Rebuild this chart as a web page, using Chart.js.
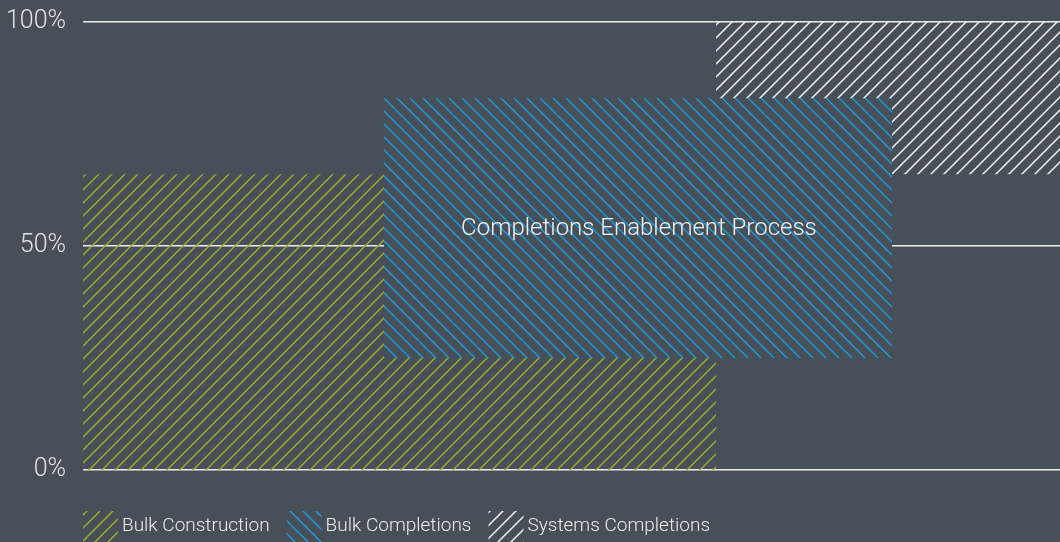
<!DOCTYPE html>
<html>
<head>
<meta charset="utf-8">
<script src="https://cdn.jsdelivr.net/npm/chart.js@4.4.1/dist/chart.umd.min.js"></script>
<style>
  html, body { margin: 0; padding: 0; background: #474f58; }
  #wrap { width: 1060px; height: 542px; position: relative; }
</style>
</head>
<body>
<div id="wrap"><canvas id="c" width="1060" height="542"></canvas></div>
<script>
// ---- data ----
const phases = ['Bulk Construction', 'Bulk Completions', 'Systems Completions'];
const phaseStart = [0, 30.8, 64.8];     // x (timeline %) start
const phaseEnd   = [64.8, 82.8, 100];   // x end
const phaseLow   = [0, 25, 66];         // y low (%)
const phaseHigh  = [66, 83, 100];       // y high (%)
const yTicks = [0, 50, 100];
const annotationText = 'Completions Enablement Process';
const annotationPhase = 1;

// ---- styles ----
const BG = '#474f58';
const phaseColors = ['#9aae2c', '#1c9ad6', '#f2f2f2'];
const phaseDir = ['/', '\\', '/'];
const phaseOpaque = [false, true, false];
const FONT = 'Roboto, "Open Sans", sans-serif';

function makePattern(color, dir, opaque) {
  const s = 13;
  const c = document.createElement('canvas');
  c.width = s; c.height = s;
  const g = c.getContext('2d');
  if (opaque) { g.fillStyle = BG; g.fillRect(0, 0, s, s); }
  g.strokeStyle = color;
  g.lineWidth = 1.5;
  g.beginPath();
  if (dir === '/') {
    g.moveTo(-2, s + 2); g.lineTo(s + 2, -2);
    g.moveTo(-2, 2); g.lineTo(2, -2);
    g.moveTo(s - 2, s + 2); g.lineTo(s + 2, s - 2);
  } else {
    g.moveTo(-2, -2); g.lineTo(s + 2, s + 2);
    g.moveTo(s - 2, -2); g.lineTo(s + 2, 2);
    g.moveTo(-2, s - 2); g.lineTo(2, s + 2);
  }
  g.stroke();
  const ctx = document.getElementById('c').getContext('2d');
  return ctx.createPattern(c, 'repeat');
}

const patterns = phases.map((p, i) => makePattern(phaseColors[i], phaseDir[i], phaseOpaque[i]));

// Draw order: blue (index 1) on top -> put it first in dataset list.
const drawOrder = [1, 0, 2];
const datasets = [];
drawOrder.forEach(pi => {
  const topIdx = datasets.length;
  datasets.push({
    label: phases[pi],
    data: [{x: phaseStart[pi], y: phaseHigh[pi]}, {x: phaseEnd[pi], y: phaseHigh[pi]}],
    borderWidth: 0,
    borderColor: 'rgba(0,0,0,0)',
    backgroundColor: patterns[pi],
    pointRadius: 0,
    fill: {target: topIdx + 1}
  });
  datasets.push({
    label: '_' + phases[pi],
    data: [{x: phaseStart[pi], y: phaseLow[pi]}, {x: phaseEnd[pi], y: phaseLow[pi]}],
    borderWidth: 0,
    borderColor: 'rgba(0,0,0,0)',
    pointRadius: 0,
    fill: false
  });
});

const annotationPlugin = {
  id: 'annot',
  afterDatasetsDraw(chart) {
    const {ctx, scales} = chart;
    const i = annotationPhase;
    const cx = scales.x.getPixelForValue((phaseStart[i] + phaseEnd[i]) / 2);
    const cy = scales.y.getPixelForValue((phaseLow[i] + phaseHigh[i]) / 2);
    ctx.save();
    ctx.fillStyle = '#f0f0f0';
    ctx.font = '300 24px ' + FONT;
    ctx.textAlign = 'center';
    ctx.textBaseline = 'middle';
    ctx.fillText(annotationText, cx + 1, cy + 1);
    ctx.restore();
  }
};

const legendPlugin = {
  id: 'customLegend',
  afterDraw(chart) {
    const {ctx, chartArea} = chart;
    let x = chartArea.left;
    const top = 511, h = 31, w = 35, cy = 526;
    ctx.save();
    ctx.font = '300 19px ' + FONT;
    ctx.textBaseline = 'middle';
    ctx.textAlign = 'left';
    phases.forEach((p, i) => {
      ctx.fillStyle = patterns[i];
      ctx.fillRect(x, top, w, h);
      ctx.fillStyle = '#ececec';
      ctx.fillText(p, x + w + 4, cy);
      x += w + 4 + ctx.measureText(p).width + 17;
    });
    ctx.restore();
  }
};

new Chart(document.getElementById('c'), {
  type: 'line',
  data: { datasets },
  options: {
    responsive: false,
    animation: false,
    layout: { padding: { top: 22, bottom: 72, right: 0, left: 0 } },
    plugins: {
      legend: { display: false },
      tooltip: { enabled: false },
      filler: { propagate: false }
    },
    scales: {
      x: { type: 'linear', min: 0, max: 100, display: false },
      y: {
        type: 'linear', min: 0, max: 100,
        afterFit(scale) { scale.width = 83; scale.paddingTop = 0; scale.paddingBottom = 0; },
        afterBuildTicks(scale) { scale.ticks = yTicks.map(v => ({value: v})); },
        border: { display: false },
        grid: { color: '#eeeeee', lineWidth: 1.5, drawTicks: false },
        ticks: {
          padding: 17,
          color: '#e2e2e2',
          font: { family: FONT, size: 25, weight: '300' },
          callback: v => v + '%'
        }
      }
    }
  },
  plugins: [annotationPlugin, legendPlugin]
});
</script>
</body>
</html>
